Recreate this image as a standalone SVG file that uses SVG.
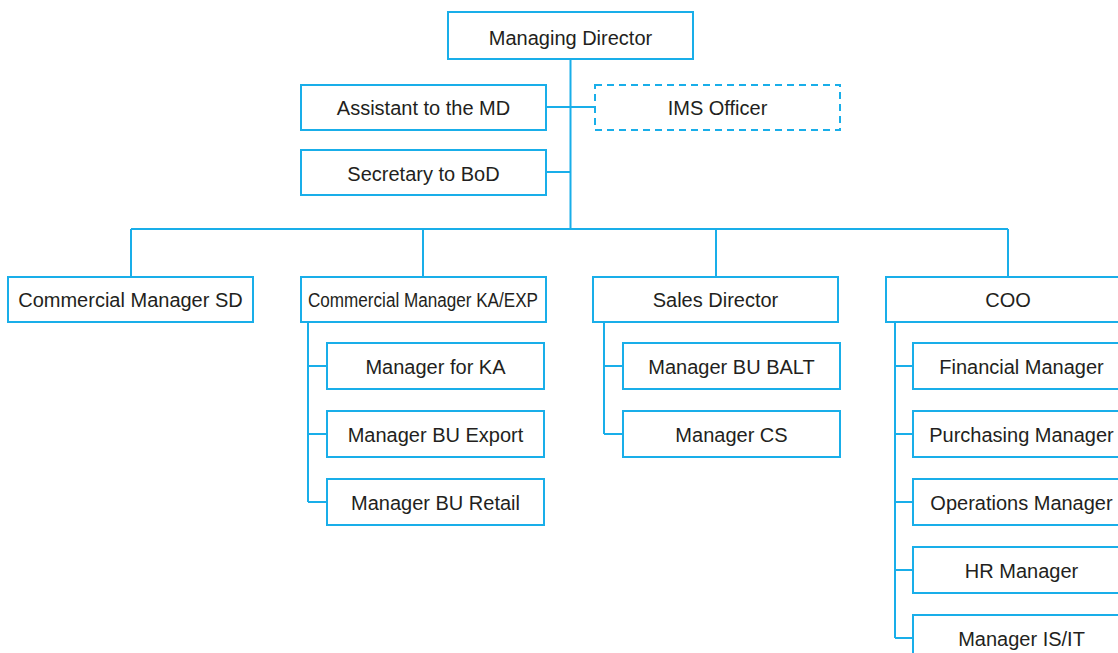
<svg xmlns="http://www.w3.org/2000/svg" width="1118" height="653" viewBox="0 0 1118 653">
<style>
.box{fill:#fff;stroke:#19aee9;stroke-width:2}
.dash{stroke-dasharray:7 5}
.ln{fill:none;stroke:#19aee9;stroke-width:2}
text{font-family:"Liberation Sans",Arial,sans-serif;font-size:20px;fill:#231f20;text-anchor:middle}
</style>
<rect width="1118" height="653" fill="#fff"/>
<g id="connectors">
<path class="ln" d="M570.5 59V229M546 107H595M546 172H570.5M131 229H1008M131 229V277M423 229V277M716 229V277M1008 229V277"/>
<path class="ln" d="M308 322V502M308 366H327M308 434H327M308 502H327"/>
<path class="ln" d="M604 322V434M604 366H623M604 434H623"/>
<path class="ln" d="M895 322V638M895 366H913M895 434H913M895 502H913M895 570H913M895 638H913"/>
</g>
<g id="md"><rect class="box" x="448" y="12" width="245" height="47"/><text x="570.5" y="44.5">Managing Director</text></g>
<g id="assistant"><rect class="box" x="301" y="85" width="245" height="45"/><text x="423.5" y="115">Assistant to the MD</text></g>
<g id="ims"><rect class="box dash" x="595" y="85" width="245" height="45"/><text x="717.5" y="115">IMS Officer</text></g>
<g id="secretary"><rect class="box" x="301" y="150" width="245" height="45"/><text x="423.5" y="180.5">Secretary to BoD</text></g>
<g id="cmsd"><rect class="box" x="8" y="277" width="245" height="45"/><text x="130.5" y="307">Commercial Manager SD</text></g>
<g id="cmka"><rect class="box" x="301" y="277" width="245" height="45"/><text x="423" y="307" textLength="230" lengthAdjust="spacingAndGlyphs">Commercial Manager KA/EXP</text></g>
<g id="sales"><rect class="box" x="593" y="277" width="245" height="45"/><text x="715.5" y="307">Sales Director</text></g>
<g id="coo"><rect class="box" x="886" y="277" width="245" height="45"/><text x="1008" y="307">COO</text></g>
<g id="mka"><rect class="box" x="327" y="343" width="217" height="46"/><text x="435.5" y="374">Manager for KA</text></g>
<g id="mexport"><rect class="box" x="327" y="411" width="217" height="46"/><text x="435.5" y="442">Manager BU Export</text></g>
<g id="mretail"><rect class="box" x="327" y="479" width="217" height="46"/><text x="435.5" y="510">Manager BU Retail</text></g>
<g id="mbalt"><rect class="box" x="623" y="343" width="217" height="46"/><text x="731.5" y="374">Manager BU BALT</text></g>
<g id="mcs"><rect class="box" x="623" y="411" width="217" height="46"/><text x="731.5" y="442">Manager CS</text></g>
<g id="fin"><rect class="box" x="913" y="343" width="217" height="46"/><text x="1021.5" y="374">Financial Manager</text></g>
<g id="pur"><rect class="box" x="913" y="411" width="217" height="46"/><text x="1021.5" y="442">Purchasing Manager</text></g>
<g id="ops"><rect class="box" x="913" y="479" width="217" height="46"/><text x="1021.5" y="510">Operations Manager</text></g>
<g id="hr"><rect class="box" x="913" y="547" width="217" height="46"/><text x="1021.5" y="578">HR Manager</text></g>
<g id="isit"><rect class="box" x="913" y="615" width="217" height="46"/><text x="1021.5" y="646">Manager IS/IT</text></g>
</svg>
